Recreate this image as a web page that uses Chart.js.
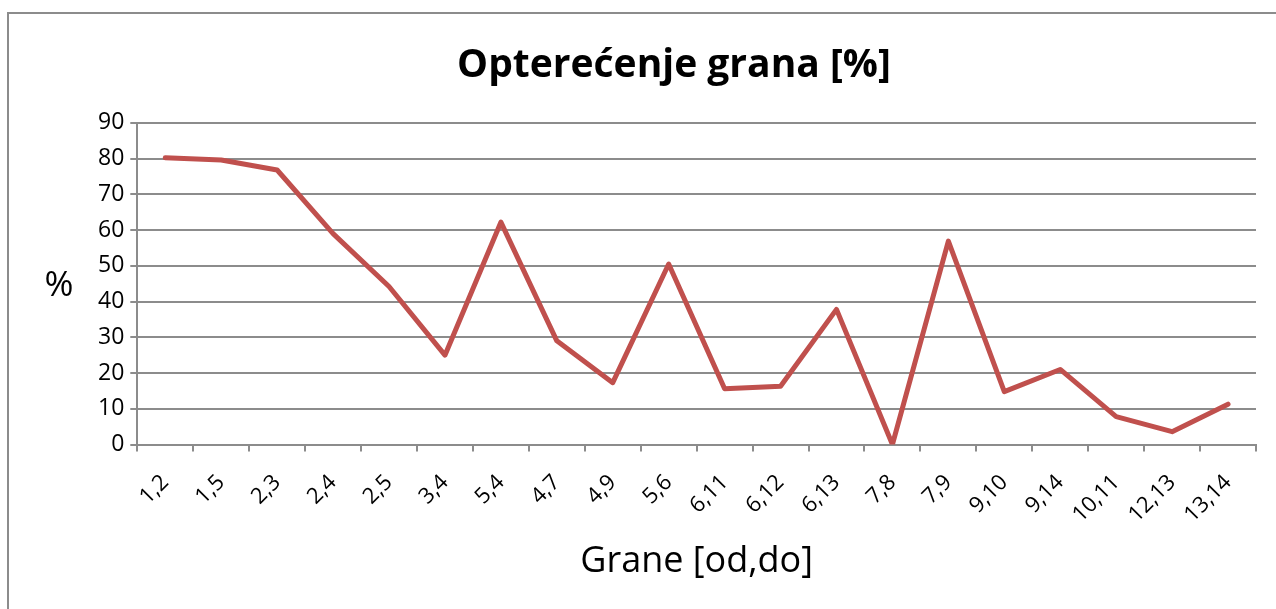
<!DOCTYPE html>
<html>
<head>
<meta charset="utf-8">
<script src="https://cdn.jsdelivr.net/npm/chart.js@4/dist/chart.umd.min.js"></script>
<style>
  html, body { margin: 0; padding: 0; background: #fff; }
  body { width: 1276px; height: 609px; position: relative; overflow: hidden; }
  #frame { position: absolute; left: 7px; top: 12px; width: 1300px; height: 640px; border: 2px solid #8c8c8c; box-sizing: border-box; }
  #wrap { position: absolute; left: 0; top: 0; width: 1276px; height: 609px; }
</style>
</head>
<body>
<div id="frame"></div>
<div id="wrap"><canvas id="c" width="1276" height="609"></canvas></div>
<script>
// data
const grane = ['1,2', '1,5', '2,3', '2,4', '2,5', '3,4', '5,4', '4,7', '4,9', '5,6',
               '6,11', '6,12', '6,13', '7,8', '7,9', '9,10', '9,14', '10,11', '12,13', '13,14'];
const opterecenje = [80.2, 79.6, 76.8, 59, 44.2, 25, 62.2, 29, 17.3, 50.5,
                     15.6, 16.3, 37.8, 0, 56.9, 14.8, 21, 7.8, 3.6, 11.3];
const yMin = 0, yMax = 90, yStep = 10;

const grid = '#8c8c8c';
const font = "'Open Sans', 'Noto Sans', sans-serif";

// horizontal "%" label left of the plot
const yLabel = {
    id: 'yLabel',
    afterDraw(chart) {
        const { ctx, chartArea } = chart;
        ctx.save();
        ctx.font = '35px ' + font;
        ctx.fillStyle = '#000';
        ctx.textAlign = 'center';
        ctx.textBaseline = 'middle';
        ctx.fillText('%', 59, (chartArea.top + chartArea.bottom) / 2 + 2);
        ctx.restore();
    }
};

new Chart(document.getElementById('c').getContext('2d'), {
    type: 'line',
    data: {
        labels: grane,
        datasets: [{
            label: 'Opterećenje',
            data: opterecenje,
            borderColor: '#c0504d',
            borderWidth: 5,
            pointRadius: 0,
            tension: 0,
            borderJoinStyle: 'round',
            borderCapStyle: 'round'
        }]
    },
    options: {
        responsive: false,
        animation: false,
        layout: { padding: { left: 92, right: 20, top: 0, bottom: 26 } },
        plugins: {
            legend: { display: false },
            tooltip: { enabled: false },
            title: {
                display: true,
                text: 'Opterećenje grana [%]',
                color: '#000',
                font: { family: font, size: 39, weight: 'bold' },
                padding: { top: 42, bottom: 34 }
            }
        },
        scales: {
            x: {
                offset: true,
                grid: { offset: true, drawOnChartArea: false, drawTicks: true, tickLength: 7, color: grid, lineWidth: 2 },
                border: { display: true, color: grid, width: 2 },
                ticks: {
                    autoSkip: false, minRotation: 45, maxRotation: 45,
                    color: '#000', font: { family: font, size: 22 }, padding: 18
                },
                title: {
                    display: true, text: 'Grane [od,do]', color: '#000',
                    font: { family: font, size: 36 }, padding: { top: -6, bottom: 0 }
                }
            },
            y: {
                min: yMin, max: yMax,
                grid: { color: grid, lineWidth: 2, drawTicks: true, tickLength: 7 },
                border: { display: true, color: grid, width: 2 },
                ticks: { stepSize: yStep, color: '#000', font: { family: font, size: 23 }, padding: 6 }
            }
        }
    },
    plugins: [yLabel]
});
</script>
</body>
</html>
